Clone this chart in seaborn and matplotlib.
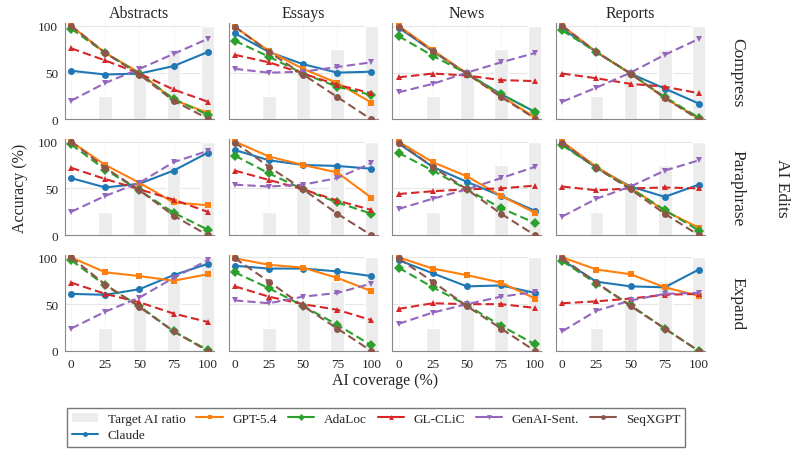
import numpy as np
import pandas as pd
import matplotlib.pyplot as plt
import seaborn as sns
from matplotlib.lines import Line2D
from matplotlib.patches import Patch

# Data
coverage = [0, 25, 50, 75, 100]
domains = ["Abstracts", "Essays", "News", "Reports"]
edits = ["Compress", "Paraphrase", "Expand"]
methods = ["Claude", "GPT-5.4", "AdaLoc", "GL-CLiC", "GenAI-Sent.", "SeqXGPT"]

# per method: {edit: [values per domain at each coverage level]}
claude = {
    "Compress":   [[52, 48, 49, 57, 72], [92, 72, 59, 50, 51], [98, 73, 49, 27, 8], [97, 72, 49, 33, 17]],
    "Paraphrase": [[61, 51, 55, 69, 88], [91, 80, 75, 74, 71], [98, 73, 57, 42, 26], [97, 72, 52, 41, 54]],
    "Expand":     [[61, 60, 66, 81, 93], [91, 88, 88, 85, 80], [97, 83, 69, 70, 62], [97, 74, 69, 68, 87]],
}
gpt54 = {
    "Compress":   [[100, 71, 50, 21, 7], [99, 73, 54, 39, 18], [100, 74, 49, 25, 2], [100, 72, 49, 23, 1]],
    "Paraphrase": [[100, 75, 56, 35, 32], [100, 84, 75, 67, 40], [100, 78, 63, 42, 24], [100, 73, 51, 26, 8]],
    "Expand":     [[100, 84, 80, 75, 82], [99, 92, 89, 78, 64], [100, 88, 81, 73, 56], [100, 87, 82, 68, 59]],
}
adaloc = {
    "Compress":   [[97, 71, 49, 22, 5], [84, 67, 49, 35, 26], [89, 68, 49, 27, 8], [95, 72, 49, 24, 2]],
    "Paraphrase": [[97, 70, 48, 24, 6], [85, 66, 49, 35, 23], [88, 69, 49, 29, 13], [96, 72, 50, 27, 5]],
    "Expand":     [[97, 70, 48, 21, 1], [84, 67, 48, 28, 6], [89, 68, 49, 27, 7], [96, 72, 49, 24, 0]],
}
glclic = {
    "Compress":   [[76, 63, 49, 32, 19], [69, 61, 49, 37, 28], [45, 49, 47, 42, 41], [49, 44, 38, 35, 28]],
    "Paraphrase": [[72, 60, 49, 38, 25], [69, 59, 49, 37, 27], [44, 47, 49, 50, 53], [52, 48, 50, 51, 50]],
    "Expand":     [[73, 61, 52, 40, 31], [69, 58, 50, 44, 33], [45, 51, 50, 50, 46], [51, 53, 56, 60, 61]],
}
genai = {
    "Compress":   [[20, 39, 54, 70, 86], [54, 50, 51, 56, 61], [29, 38, 50, 61, 71], [19, 34, 50, 69, 86]],
    "Paraphrase": [[25, 42, 56, 78, 90], [54, 52, 54, 61, 77], [28, 39, 49, 61, 73], [20, 39, 52, 69, 80]],
    "Expand":     [[24, 42, 57, 78, 97], [54, 51, 58, 62, 72], [29, 41, 50, 58, 63], [21, 43, 54, 61, 62]],
}
seqxgpt = {
    "Compress":   [[100, 71, 48, 20, 1], [99, 72, 48, 24, 0], [99, 73, 49, 24, 1], [100, 72, 49, 23, 0]],
    "Paraphrase": [[100, 72, 48, 21, 0], [99, 73, 49, 23, 0], [99, 73, 49, 23, 0], [99, 72, 49, 23, 0]],
    "Expand":     [[100, 71, 47, 21, 0], [99, 74, 48, 24, 0], [99, 74, 48, 24, 0], [99, 73, 48, 24, 0]],
}
results = {"Claude": claude, "GPT-5.4": gpt54, "AdaLoc": adaloc,
           "GL-CLiC": glclic, "GenAI-Sent.": genai, "SeqXGPT": seqxgpt}

# long table for seaborn
rows = []
for m in methods:
    for e in edits:
        for di, d in enumerate(domains):
            for x, v in zip(coverage, results[m][e][di]):
                rows.append({"method": m, "edit": e, "domain": d, "coverage": x, "acc": v})
df = pd.DataFrame(rows)

palette = {"Claude": "#1f77b4", "GPT-5.4": "#ff7f0e", "AdaLoc": "#2ca02c",
           "GL-CLiC": "#d62728", "GenAI-Sent.": "#9467bd", "SeqXGPT": "#8c564b"}
markers = {"Claude": "o", "GPT-5.4": "s", "AdaLoc": "D", "GL-CLiC": "^",
           "GenAI-Sent.": "v", "SeqXGPT": "o"}
dashes = {"Claude": "", "GPT-5.4": "", "AdaLoc": (4, 2), "GL-CLiC": (4, 2),
          "GenAI-Sent.": (4, 2), "SeqXGPT": (4, 2)}

sns.set_theme(style="white")
plt.rcParams["font.family"] = ["Liberation Serif", "DejaVu Serif"]

fig, axes = plt.subplots(3, 4, figsize=(7.94, 4.56), dpi=100, sharex=True, sharey=True)
fig.subplots_adjust(left=65 / 794, right=705 / 794, top=1 - 24 / 456,
                    bottom=1 - 352 / 456, wspace=0.1, hspace=0.2)

for r, e in enumerate(edits):
    for c, d in enumerate(domains):
        ax = axes[r, c]
        # target AI ratio bars
        ax.bar(coverage, coverage, width=10, color="#ececec", zorder=1)
        sub = df[(df.edit == e) & (df.domain == d)]
        sns.lineplot(data=sub, x="coverage", y="acc", hue="method", style="method",
                     hue_order=methods, style_order=methods, palette=palette,
                     markers=markers, dashes=dashes, markersize=5,
                     markeredgewidth=0, linewidth=1.5, legend=False, ax=ax, zorder=3)
        ax.set_xlim(-4.5, 104.5)
        ax.set_ylim(0, 103)
        ax.set_xticks(coverage)
        ax.set_yticks([0, 50, 100])
        ax.grid(axis="y", color="#e6e6e6", lw=0.8, zorder=0)
        ax.grid(axis="x", color="#e6e6e6", lw=0.7, ls=":", zorder=0)
        ax.set_axisbelow(True)
        ax.set_xlabel("")
        ax.set_ylabel("")
        for s in ["top", "right"]:
            ax.spines[s].set_visible(False)
        for s in ["left", "bottom"]:
            ax.spines[s].set_color("#888888")
            ax.spines[s].set_linewidth(0.8)
        ax.tick_params(axis="both", which="both", direction="out", length=3,
                       width=0.8, color="#333333", labelsize=9.5, pad=2)
        if r == 0:
            ax.set_title(d, fontsize=11.5, pad=4)
        if c == 3:
            ax.text(1 + 32 / 149, 0.5, e, transform=ax.transAxes, rotation=270,
                    ha="center", va="center", fontsize=12.5)

ymid = 0.5 * ((1 - 24 / 456) + (1 - 352 / 456))
fig.text(20 / 794, ymid, "Accuracy (%)", rotation=90, ha="center", va="center", fontsize=11.5)
fig.text(385 / 794, 1 - 381 / 456, "AI coverage (%)", ha="center", va="center", fontsize=11.5)
fig.text(782 / 794, ymid, "AI Edits", rotation=270, ha="center", va="center", fontsize=12.5)

handles = [Patch(facecolor="#ececec", edgecolor="none", label="Target AI ratio")]
for m in methods:
    handles.append(Line2D([0], [0], color=palette[m], marker=markers[m], markersize=3.5,
                          markeredgewidth=0, lw=1.5, label=m))
leg = fig.legend(handles=handles, loc="upper left", ncol=6,
                 bbox_to_anchor=(60 / 794, 1 - 402 / 456), fontsize=9.5,
                 frameon=True, fancybox=False, edgecolor="#555555",
                 handlelength=2.0, columnspacing=0.85, handletextpad=0.7,
                 borderpad=0.4, labelspacing=0.3)
leg.get_frame().set_linewidth(1.0)

fig.savefig("out.png", dpi=100)
